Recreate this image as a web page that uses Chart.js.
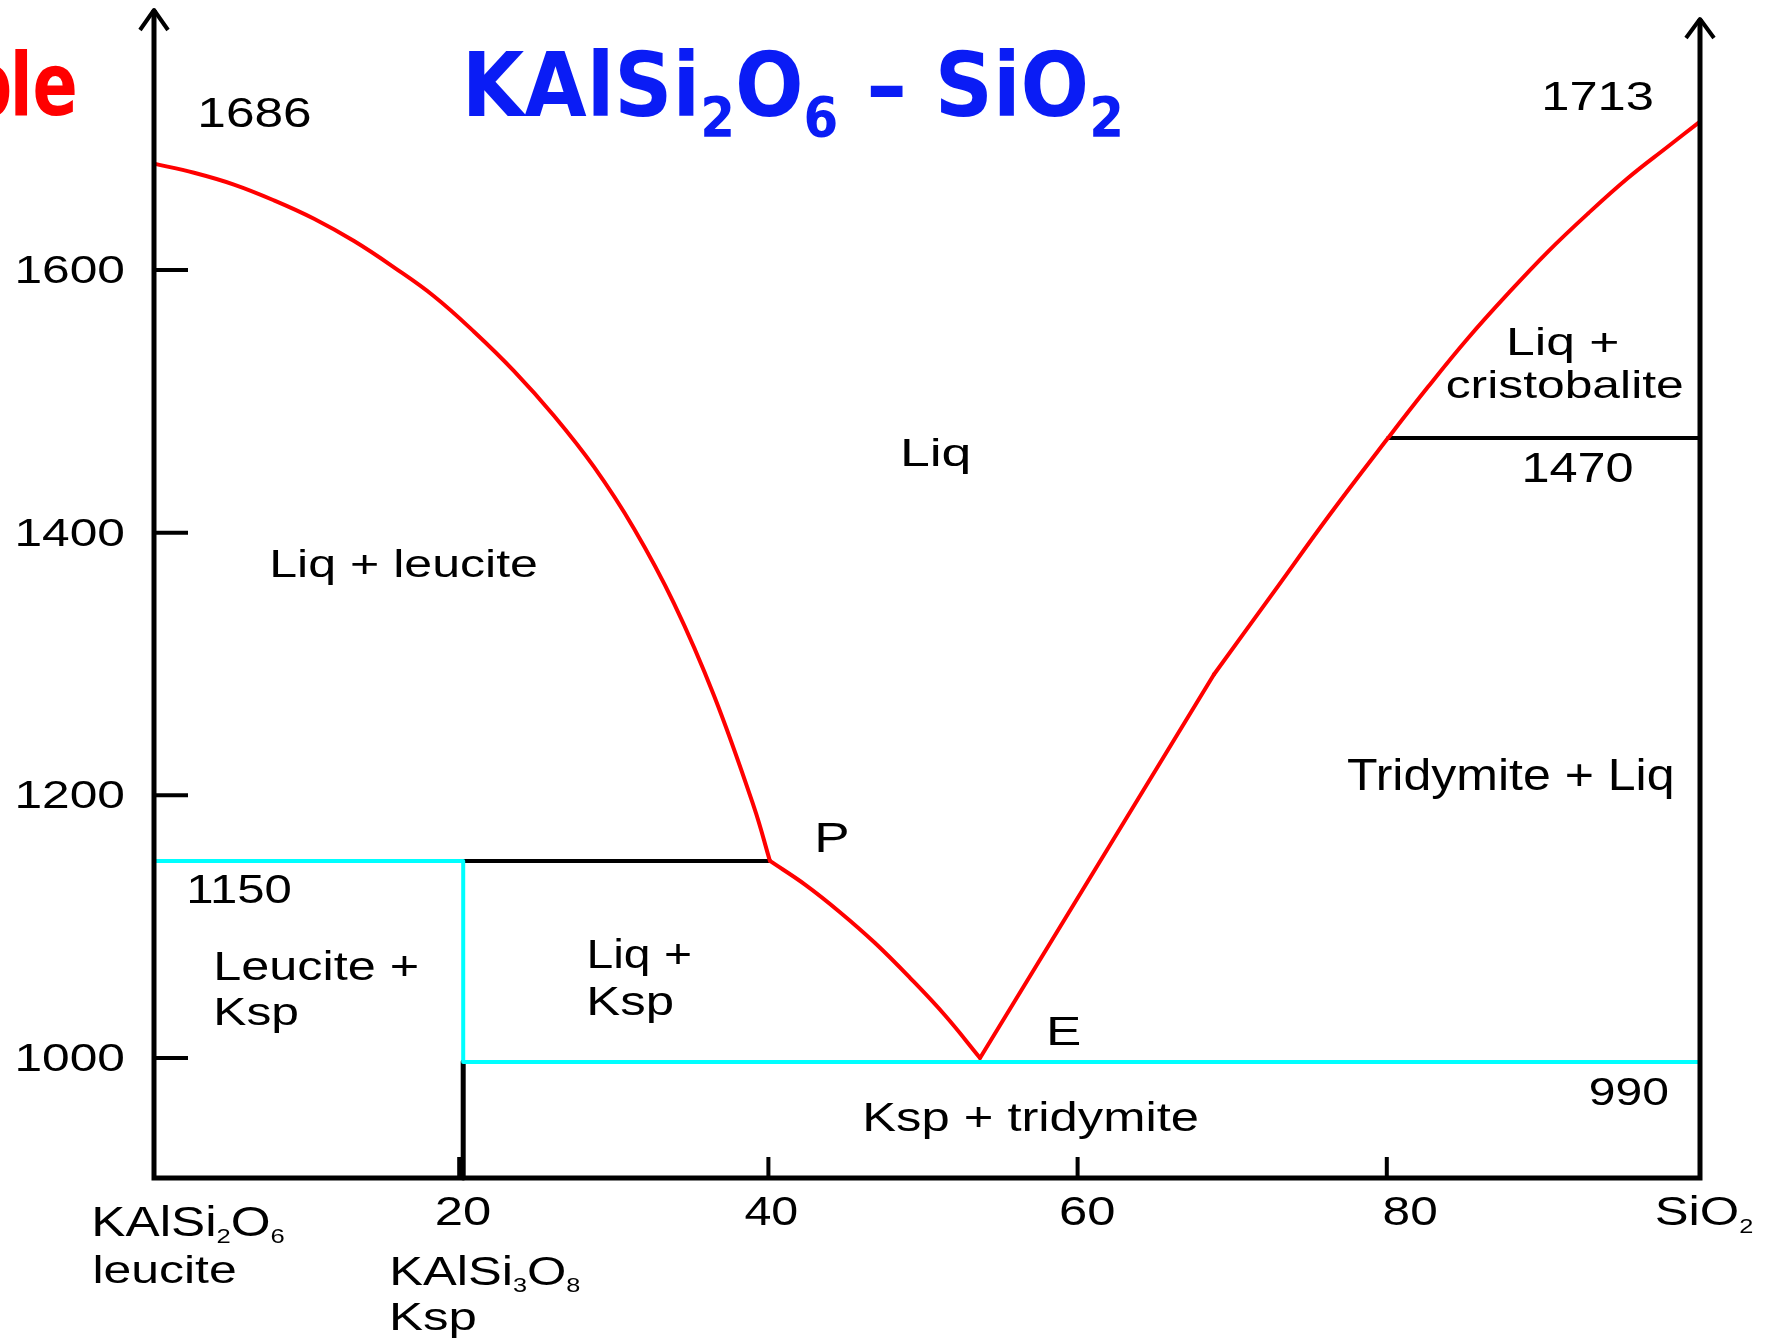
<!DOCTYPE html>
<html>
<head>
<meta charset="utf-8">
<script src="https://cdn.jsdelivr.net/npm/chart.js@4.4.1/dist/chart.umd.min.js"></script>
<style>
html,body{margin:0;padding:0;background:#ffffff;}
#wrap{width:1771px;height:1340px;}
</style>
</head>
<body>
<div id="wrap"><canvas id="c" width="1771" height="1340"></canvas></div>
<script>
// ---- Data: composition (0 = KAlSi2O6, 100 = SiO2) and temperature (°C)
const leuciteLiquidusX = [0, 2.59, 5.17, 7.76, 10.35, 12.94, 15.52, 18.11, 20.70, 23.29, 25.87, 28.46, 31.05, 33.64, 36.22, 38.81, 39.84];
const leuciteLiquidusT = [1681, 1674, 1665, 1653, 1639, 1622, 1602, 1580, 1553, 1523, 1489, 1450, 1403, 1346, 1276, 1191, 1150];

const kspLiquidusX = [39.84, 42.11, 44.37, 46.64, 48.90, 51.16, 53.43];
const kspLiquidusT = [1150, 1132, 1111, 1087.5, 1061, 1032.5, 1000];

const tridymiteLiquidusX = [53.43, 61.0, 68.56];
const tridymiteLiquidusT = [1000, 1146, 1292];

const silicaLiquidusX = [68.56, 72.32, 76.07, 79.82, 82.41, 84.99, 87.58, 90.17, 92.76, 95.34, 97.93, 100];
const silicaLiquidusT = [1292, 1353, 1414, 1472, 1511, 1548, 1582, 1614, 1643, 1670, 1694, 1713];

const peritecticX = [20, 39.84];
const peritecticT = [1150, 1150];

const leuciteKspBoundaryX = [0, 20, 20, 100];
const leuciteKspBoundaryT = [1150, 1150, 997, 997];

const kspCompositionX = [20, 20];
const kspCompositionT = [997, 908.6];

const cristobaliteX = [79.82, 100];
const cristobaliteT = [1472, 1472];

const xTickValues = [20, 40, 60, 80];
const xTickLabels = ['20', '40', '60', '80'];
const yTickValues = [1000, 1200, 1400, 1600];
const yTickLabels = ['1000', '1200', '1400', '1600'];

// ---- Styling / layout (not data)
const SANS = '"Liberation Sans", Arial, sans-serif';
const BOLD = '"DejaVu Sans", sans-serif';
const xTickLabelNudge = [0, -2, 6, 19];

const textLayout = [
  {runs:[{t:'1686'}], left:201, right:310, base:127, cap:29},
  {runs:[{t:'1713'}], left:1545, right:1652, base:110, cap:28},
  {runs:[{t:'Liq'}], left:904, right:969, base:466, cap:27},
  {runs:[{t:'Liq + leucite'}], left:273, right:537, base:577, cap:27},
  {runs:[{t:'Liq +'}], left:1510, right:1617, base:355, cap:27},
  {runs:[{t:'cristobalite'}], left:1447, right:1682, base:398, cap:28, capChar:'l'},
  {runs:[{t:'1470'}], left:1525, right:1632, base:482, cap:29},
  {runs:[{t:'Tridymite + Liq'}], left:1347, right:1672, base:790, cap:30},
  {runs:[{t:'P'}], left:818, right:847, base:852, cap:29},
  {runs:[{t:'1150'}], left:190, right:290, base:903, cap:28},
  {runs:[{t:'Leucite +'}], left:217, right:417, base:980, cap:28},
  {runs:[{t:'Ksp'}], left:217, right:298, base:1025, cap:27},
  {runs:[{t:'Liq +'}], left:590, right:690, base:968, cap:28},
  {runs:[{t:'Ksp'}], left:590, right:672, base:1015, cap:28},
  {runs:[{t:'E'}], left:1050, right:1080, base:1045, cap:28},
  {runs:[{t:'990'}], left:1590, right:1668, base:1105, cap:27},
  {runs:[{t:'Ksp + tridymite'}], left:866, right:1197, base:1131, cap:28},
  {runs:[{t:'KAlSi'},{t:'2',sub:true},{t:'O'},{t:'6',sub:true}], left:95, right:284, base:1236, cap:29, subRatio:0.5, subDy:7},
  {runs:[{t:'leucite'}], left:95, right:235, base:1283, cap:28, capChar:'l'},
  {runs:[{t:'KAlSi'},{t:'3',sub:true},{t:'O'},{t:'8',sub:true}], left:393, right:580, base:1285, cap:28, subRatio:0.5, subDy:7},
  {runs:[{t:'Ksp'}], left:393, right:476, base:1330, cap:27},
  {runs:[{t:'SiO'},{t:'2',sub:true}], left:1656, right:1753, base:1225, cap:28, subRatio:0.5, subDy:8},
  {runs:[{t:'KAlSi'},{t:'2',sub:true},{t:'O'},{t:'6',sub:true},{t:' \u2013 '},{t:'SiO'},{t:'2',sub:true}],
   left:469, right:1120, base:116, cap:65, family:BOLD, weight:'bold', color:'#0a1cf5', subRatio:0.62, subDy:20}
];

function pts(xs, ts) { return xs.map((x, i) => ({x: x, y: ts[i]})); }

function fitText(ctx, o) {
  const fam = o.family || SANS;
  const wt = o.weight || 'normal';
  ctx.font = wt + ' 100px ' + fam;
  const asc = ctx.measureText(o.capChar || 'H').actualBoundingBoxAscent || 72;
  const size = o.cap * 100 / asc;
  const subSize = size * (o.subRatio || 0.55);
  let x = 0, inkStart = 0, inkEnd = 0;
  const parts = o.runs.map((r, i) => {
    const s = r.sub ? subSize : size;
    ctx.font = wt + ' ' + s + 'px ' + fam;
    const m = ctx.measureText(r.t);
    const p = {t: r.t, font: ctx.font, x: x, dy: r.sub ? (o.subDy || 0) : 0};
    if (i === 0) inkStart = -m.actualBoundingBoxLeft;
    inkEnd = x + m.actualBoundingBoxRight;
    x += m.width;
    return p;
  });
  const sx = (o.right - o.left) / (inkEnd - inkStart);
  ctx.save();
  ctx.translate(o.left - inkStart * sx, o.base);
  ctx.scale(sx, 1);
  ctx.fillStyle = o.color || '#000000';
  ctx.textAlign = 'left';
  ctx.textBaseline = 'alphabetic';
  parts.forEach(p => { ctx.font = p.font; ctx.fillText(p.t, p.x, p.dy); });
  ctx.restore();
}

function drawCutWord(ctx) {
  // red word running off the left edge: only the tail "...ple" is visible
  ctx.save();
  ctx.font = 'bold 100px ' + BOLD;
  const la = ctx.measureText('l').actualBoundingBoxAscent || 76;
  const sz = 67 * 100 / la;
  ctx.font = 'bold ' + sz + 'px ' + BOLD;
  const le = ctx.measureText('le');
  const sx = 60 / (le.actualBoundingBoxRight + le.actualBoundingBoxLeft);
  ctx.fillStyle = '#ff0000';
  ctx.textBaseline = 'alphabetic';
  ctx.textAlign = 'left';
  ctx.save();
  ctx.translate(15 + le.actualBoundingBoxLeft * sx, 115);
  ctx.scale(sx, 1);
  ctx.fillText('le', 0, 0);
  ctx.restore();
  const head = ctx.measureText('Examp');
  ctx.save();
  ctx.translate(10 - head.actualBoundingBoxRight * sx, 115);
  ctx.scale(sx, 1);
  ctx.fillText('Examp', 0, 0);
  ctx.restore();
  ctx.restore();
}

const decor = {
  id: 'decor',
  afterDraw(chart) {
    const ctx = chart.ctx;
    const xs = chart.scales.x, ys = chart.scales.y;
    const x0 = xs.getPixelForValue(xs.min), x1 = xs.getPixelForValue(xs.max);
    const yb = ys.getPixelForValue(ys.min), yt = chart.chartArea.top;
    ctx.save();
    ctx.strokeStyle = '#000000';
    ctx.lineCap = 'butt';
    ctx.lineJoin = 'miter';
    ctx.lineWidth = 5;
    ctx.beginPath();
    ctx.moveTo(x0, yt + 1);
    ctx.lineTo(x0, yb);
    ctx.lineTo(x1, yb);
    ctx.lineTo(x1, yt + 10);
    ctx.stroke();
    ctx.lineWidth = 4;
    ctx.lineJoin = 'round';
    ctx.beginPath();
    ctx.moveTo(x0 - 14, yt + 21); ctx.lineTo(x0, yt + 1); ctx.lineTo(x0 + 14, yt + 21);
    ctx.moveTo(x1 - 14, yt + 29); ctx.lineTo(x1, yt + 10); ctx.lineTo(x1 + 14, yt + 29);
    ctx.stroke();
    ctx.lineWidth = 4;
    ctx.beginPath();
    yTickValues.forEach(v => { const y = ys.getPixelForValue(v); ctx.moveTo(x0, y); ctx.lineTo(x0 + 34, y); });
    xTickValues.forEach(v => { const x = xs.getPixelForValue(v) - 4; ctx.moveTo(x, yb); ctx.lineTo(x, yb - 21); });
    ctx.stroke();
    ctx.restore();
    yTickValues.forEach((v, i) => {
      const y = ys.getPixelForValue(v);
      fitText(ctx, {runs:[{t:yTickLabels[i]}], left:17, right:124, base:y + 13, cap:27});
    });
    xTickValues.forEach((v, i) => {
      const cx = xs.getPixelForValue(v) + xTickLabelNudge[i];
      fitText(ctx, {runs:[{t:xTickLabels[i]}], left:cx - 26, right:cx + 26, base:1225, cap:28});
    });
    textLayout.forEach(o => fitText(ctx, o));
    drawCutWord(ctx);
  }
};

const lineDs = (data, color, width, tension) => ({
  data: data, showLine: true, borderColor: color, backgroundColor: color,
  borderWidth: width, pointRadius: 0, pointHoverRadius: 0, fill: false,
  tension: tension, clip: false, borderJoinStyle: 'round', borderCapStyle: 'round'
});

new Chart(document.getElementById('c').getContext('2d'), {
  type: 'scatter',
  data: {
    datasets: [
      lineDs(pts(leuciteLiquidusX, leuciteLiquidusT), '#ff0000', 4, 0.4),
      lineDs(pts(kspLiquidusX, kspLiquidusT), '#ff0000', 4, 0.4),
      lineDs(pts(tridymiteLiquidusX, tridymiteLiquidusT), '#ff0000', 4, 0),
      lineDs(pts(silicaLiquidusX, silicaLiquidusT), '#ff0000', 4, 0.4),
      lineDs(pts(leuciteKspBoundaryX, leuciteKspBoundaryT), '#00ffff', 4, 0),
      lineDs(pts(peritecticX, peritecticT), '#000000', 4, 0),
      lineDs(pts(cristobaliteX, cristobaliteT), '#000000', 4, 0),
      lineDs(pts(kspCompositionX, kspCompositionT), '#000000', 5, 0)
    ]
  },
  options: {
    responsive: false,
    devicePixelRatio: 1,
    animation: false,
    events: [],
    layout: {padding: {left: 154, right: 71, top: 9, bottom: 162}},
    scales: {
      x: {type: 'linear', min: 0, max: 100, display: false},
      y: {type: 'linear', min: 908.6, max: 1798.7, display: false}
    },
    plugins: {legend: {display: false}, tooltip: {enabled: false}, title: {display: false}}
  },
  plugins: [decor]
});
</script>
</body>
</html>
